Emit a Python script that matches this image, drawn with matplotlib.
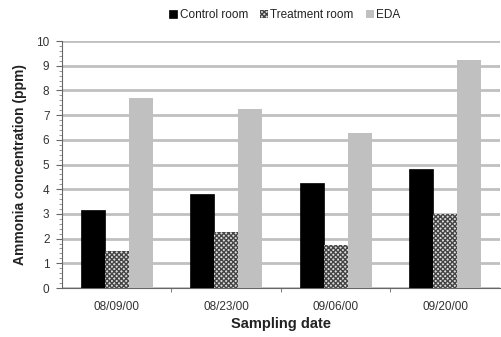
import matplotlib
matplotlib.use("Agg")
import matplotlib.pyplot as plt
import numpy as np
from matplotlib.ticker import MultipleLocator

plt.rcParams['font.family'] = ['Liberation Sans', 'DejaVu Sans']
plt.rcParams['hatch.linewidth'] = 1.0

dates = ["08/09/00", "08/23/00", "09/06/00", "09/20/00"]
control = [3.15, 3.8, 4.25, 4.8]
treatment = [1.5, 2.25, 1.75, 3.0]
eda = [7.7, 7.25, 6.27, 9.23]
series_names = ["Control room", "Treatment room", "EDA"]

fig = plt.figure(figsize=(5.02, 3.37), dpi=100)
ax = fig.add_axes([0.1235, 0.1454, 0.8725, 0.7326])

x = np.arange(len(dates))
w = 0.22
b1 = ax.bar(x - w, control, w, color='black', edgecolor='black', linewidth=0.5, zorder=3, label=series_names[0])
b2 = ax.bar(x, treatment, w, color='#dddddd', edgecolor='#444444', hatch='xxxxxxx', linewidth=0, zorder=3, label=series_names[1])
b3 = ax.bar(x + w, eda, w, color='#c0c0c0', edgecolor='#c0c0c0', linewidth=0, zorder=3, label=series_names[2])

ax.set_xlim(-0.5, 3.5)
ax.set_ylim(0, 10)
ax.set_yticks(range(0, 11))
ax.yaxis.set_minor_locator(MultipleLocator(0.2))
ax.set_xticks(x)
ax.set_xticklabels(dates)
ax.set_xticks([0.5, 1.5, 2.5], minor=True)
ax.tick_params(axis='x', which='major', length=0, labelsize=8.5, pad=9)
ax.tick_params(axis='x', which='minor', length=3, color='#666666')
ax.tick_params(axis='y', which='major', length=4, labelsize=8.5, color='#666666', pad=5)
ax.tick_params(axis='y', which='minor', length=2, color='#888888')
for lab in ax.get_xticklabels() + ax.get_yticklabels():
    lab.set_color('#333333')
ax.yaxis.grid(True, which='major', color='#c0c0c0', linewidth=2, zorder=0)
ax.set_axisbelow(True)
for s in ['top', 'right']:
    ax.spines[s].set_visible(False)
ax.spines['left'].set_color('#666666')
ax.spines['bottom'].set_color('#666666')

ax.set_ylabel("Ammonia concentration (ppm)", fontsize=10, fontweight='bold', labelpad=7, color='#222222')
ax.set_xlabel("Sampling date", fontsize=10.5, fontweight='bold', labelpad=3, color='#222222')

fig.legend(handles=[b1, b2, b3], loc='center', bbox_to_anchor=(0.567, 0.955), ncol=3,
           frameon=False, fontsize=8.5, handlelength=0.7, handleheight=0.7,
           handletextpad=0.2, columnspacing=1.0, labelcolor='#222222')

fig.savefig("out.png", dpi=100)
